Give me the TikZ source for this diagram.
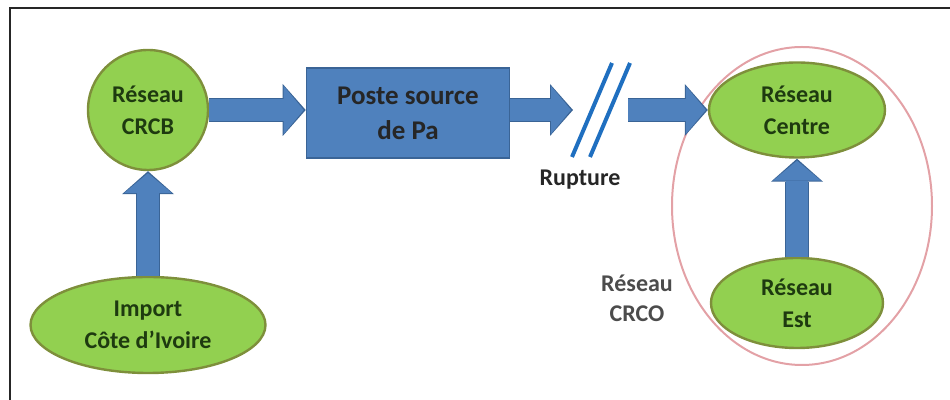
\documentclass[tikz,border=0pt]{standalone}
\usepackage{fontspec}
\setmainfont{Carlito}
\usetikzlibrary{positioning, arrows.meta, shapes.geometric}
\definecolor{leaf}{HTML}{92D050}
\definecolor{leafedge}{HTML}{7E8F3B}
\definecolor{leaftext}{HTML}{1E3A10}
\definecolor{boxblue}{HTML}{4F81BD}
\definecolor{boxedge}{HTML}{3A6496}
\definecolor{cutblue}{HTML}{1F6FC0}
\definecolor{zone}{HTML}{E3A1A6}

\begin{document}
\begin{tikzpicture}[
  x=0.5pt, y=-0.5pt,
  net/.style={ellipse, draw=leafedge, line width=1.2pt, fill=leaf,
              text=leaftext, align=center, inner sep=0pt,
              font=\bfseries\fontsize{12}{16}\selectfont},
  src/.style={draw=boxedge, line width=0.8pt, fill=boxblue,
              minimum width=101.5pt, minimum height=45pt, align=center,
              text=black!85, font=\bfseries\fontsize{13.5}{17.5}\selectfont},
  lbl/.style={align=center, text=black!80, font=\bfseries\fontsize{12}{15}\selectfont},
  fat/.style={draw=boxblue, line width=11pt, shorten >=1pt,
              -{Triangle[length=10pt, width=24pt, line width=0pt]},
              preaction={draw=boxedge, line width=12.2pt, shorten >=0pt,
                -{Triangle[length=11.5pt, width=26pt, line width=0pt]}}},
  slash/.style={draw=cutblue, line width=2pt},
]
  \useasboundingbox (0,0) rectangle (950,400);
  \draw[line width=0.8pt, black!85] (10,400) -- (10,8) -- (950,8);

  % zone CRCO
  \node[ellipse, draw=zone, line width=1pt, minimum width=130pt,
        minimum height=159pt] (crco) at (802,206) {};
  \node[lbl, text=black!70] (crcolbl) at (637,298) {Réseau\\CRCO};

  \node[net, circle, minimum size=60pt] (crcb) at (148,110) {Réseau\\CRCB};
  \node[net, minimum width=117.5pt, minimum height=48pt] (imp) at (148,325) {Import\\Côte d’Ivoire};
  \node[src] (poste) at (408,113) {Poste source\\de Pa};
  \node[net, minimum width=88pt, minimum height=47.5pt] (centre) at (797,110) {Réseau\\Centre};
  \node[net, minimum width=86pt, minimum height=45pt] (est) at (797,303) {Réseau\\Est};

  % rupture
  \coordinate (cutin) at (573,110);
  \coordinate (cutout) at (628,110);
  \draw[slash] (612,63) -- (572,157);
  \draw[slash] (630,63) -- (590,157);
  \node[lbl, text=black!85] (rupt) at (580,180) {Rupture};

  \draw[fat] (imp.north) -- (crcb.south);
  \draw[fat] (crcb.east) -- (poste.west |- crcb.east);
  \draw[fat] (poste.east |- cutin) -- (cutin);
  \draw[fat] (cutout) -- (centre.west);
  \draw[fat] (est.north) -- (centre.south);
\end{tikzpicture}
\end{document}
